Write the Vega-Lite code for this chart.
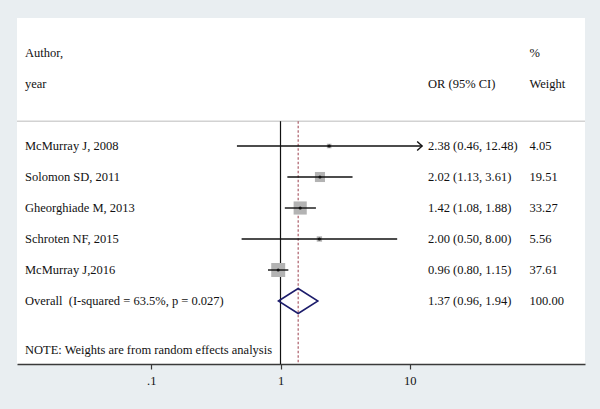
{
  "$schema": "https://vega.github.io/schema/vega-lite/v6.json",
  "width": 568,
  "height": 346,
  "autosize": {"type": "none"},
  "padding": {"left": 17, "top": 18, "right": 15, "bottom": 45},
  "background": "#e9eef1",
  "config": {
    "view": {"fill": "white", "stroke": null},
    "axisX": {
      "grid": false,
      "domainColor": "#3a3a3a", "domainWidth": 1.6,
      "tickColor": "#3a3a3a", "tickSize": 5, "tickWidth": 1.2,
      "labelFont": "Liberation Serif", "labelFontSize": 12.5, "labelColor": "#111111", "labelPadding": 5,
      "titleOpacity": 0
    }
  },
  "data": {
    "values": [
      {"study": "Author,", "row": -3, "wt": "%"},
      {"study": "year", "row": -2, "ci": "OR (95% CI)", "wt": "Weight"},
      {"study": "McMurray J, 2008", "row": 0, "or": 2.38, "lo": 0.46, "hi": 12.48, "ci": "2.38 (0.46, 12.48)", "weight": 4.05, "wt": "4.05"},
      {"study": "Solomon SD, 2011", "row": 1, "or": 2.02, "lo": 1.13, "hi": 3.61, "ci": "2.02 (1.13, 3.61)", "weight": 19.51, "wt": "19.51"},
      {"study": "Gheorghiade M, 2013", "row": 2, "or": 1.42, "lo": 1.08, "hi": 1.88, "ci": "1.42 (1.08, 1.88)", "weight": 33.27, "wt": "33.27"},
      {"study": "Schroten NF, 2015", "row": 3, "or": 2.0, "lo": 0.5, "hi": 8.0, "ci": "2.00 (0.50, 8.00)", "weight": 5.56, "wt": "5.56"},
      {"study": "McMurray J,2016", "row": 4, "or": 0.96, "lo": 0.8, "hi": 1.15, "ci": "0.96 (0.80, 1.15)", "weight": 37.61, "wt": "37.61"},
      {"study": "Overall\u00a0 (I-squared = 63.5%, p = 0.027)", "row": 5, "or": 1.37, "lo": 0.96, "hi": 1.94, "ci": "1.37 (0.96, 1.94)", "weight": 100, "wt": "100.00", "overall": true}
    ]
  },
  "layer": [
    {
      "data": {"values": [{}]},
      "mark": {"type": "rule", "color": "#d2d2d2", "strokeWidth": 1.5},
      "encoding": {
        "y": {"datum": -0.8, "type": "quantitative", "scale": {"domain": [-4.129, 7.032], "reverse": true, "nice": false, "zero": false}, "axis": null}
      }
    },
    {
      "data": {"values": [{}]},
      "mark": {"type": "rule", "color": "#111111", "strokeWidth": 1.2},
      "encoding": {
        "x": {
          "datum": 1, "type": "quantitative", "title": null,
          "scale": {"type": "log", "domain": [0.00913, 227.4], "nice": false},
          "axis": {
            "values": [0.1, 1, 10],
            "labelExpr": "replace(format(datum.value, '~g'), '0.', '.')"
          }
        },
        "y": {"datum": -0.8, "type": "quantitative", "axis": null},
        "y2": {"datum": 7.032}
      }
    },
    {
      "data": {"values": [{}]},
      "mark": {"type": "rule", "color": "#a4505c", "strokeWidth": 1.1, "strokeDash": [2.5, 2]},
      "encoding": {
        "x": {"datum": 1.37, "type": "quantitative", "title": null},
        "y": {"datum": -0.8, "type": "quantitative", "axis": null},
        "y2": {"datum": 7.032}
      }
    },
    {
      "transform": [{"filter": "isValid(datum.lo) && !datum.overall"}],
      "mark": {"type": "point", "shape": "square", "filled": true, "color": "#b3b3b3", "opacity": 1},
      "encoding": {
        "x": {"field": "or", "type": "quantitative", "title": null},
        "y": {"field": "row", "type": "quantitative", "axis": null},
        "size": {"field": "weight", "type": "quantitative", "scale": {"domain": [0, 40], "range": [0, 208]}, "legend": null}
      }
    },
    {
      "transform": [{"filter": "isValid(datum.lo) && !datum.overall"}],
      "mark": {"type": "rule", "color": "#111111", "strokeWidth": 1.4},
      "encoding": {
        "x": {"field": "lo", "type": "quantitative", "title": null},
        "x2": {"field": "hi"},
        "y": {"field": "row", "type": "quantitative", "axis": null}
      }
    },
    {
      "transform": [{"filter": "isValid(datum.lo) && !datum.overall"}],
      "mark": {"type": "point", "shape": "circle", "filled": true, "color": "#111111", "size": 10, "opacity": 1},
      "encoding": {
        "x": {"field": "or", "type": "quantitative", "title": null},
        "y": {"field": "row", "type": "quantitative", "axis": null}
      }
    },
    {
      "transform": [{"filter": "isValid(datum.hi) && datum.hi > 10"}],
      "mark": {"type": "point", "shape": "M-1.1,-1L0,0L-1.1,1", "filled": false, "color": "#111111", "strokeWidth": 1.4, "size": 81, "opacity": 1},
      "encoding": {
        "x": {"field": "hi", "type": "quantitative", "title": null},
        "y": {"field": "row", "type": "quantitative", "axis": null}
      }
    },
    {
      "transform": [{"filter": "datum.overall == true"}],
      "mark": {"type": "point", "shape": "M-1,0L0,-0.633L1,0L0,0.633Z", "filled": false, "color": "#1c1c6b", "strokeWidth": 1.5, "size": 1560, "opacity": 1},
      "encoding": {
        "x": {"field": "or", "type": "quantitative", "title": null},
        "y": {"field": "row", "type": "quantitative", "axis": null}
      }
    },
    {
      "mark": {"type": "text", "font": "Liberation Serif", "fontSize": 12.5, "color": "#111111", "baseline": "middle", "align": "left"},
      "encoding": {
        "x": {"datum": 0.01053, "type": "quantitative", "title": null},
        "y": {"field": "row", "type": "quantitative", "axis": null},
        "text": {"field": "study", "type": "nominal"}
      }
    },
    {
      "transform": [{"filter": "isValid(datum.ci)"}],
      "mark": {"type": "text", "font": "Liberation Serif", "fontSize": 12.5, "color": "#111111", "baseline": "middle", "align": "left"},
      "encoding": {
        "x": {"datum": 13.86, "type": "quantitative", "title": null},
        "y": {"field": "row", "type": "quantitative", "axis": null},
        "text": {"field": "ci", "type": "nominal"}
      }
    },
    {
      "transform": [{"filter": "isValid(datum.wt)"}],
      "mark": {"type": "text", "font": "Liberation Serif", "fontSize": 12.5, "color": "#111111", "baseline": "middle", "align": "left"},
      "encoding": {
        "x": {"datum": 84.6, "type": "quantitative", "title": null},
        "y": {"field": "row", "type": "quantitative", "axis": null},
        "text": {"field": "wt", "type": "nominal"}
      }
    },
    {
      "data": {"values": [{"note": "NOTE: Weights are from random effects analysis"}]},
      "mark": {"type": "text", "font": "Liberation Serif", "fontSize": 12.5, "color": "#111111", "baseline": "middle", "align": "left"},
      "encoding": {
        "x": {"datum": 0.01053, "type": "quantitative", "title": null},
        "y": {"datum": 6.58, "type": "quantitative", "axis": null},
        "text": {"field": "note", "type": "nominal"}
      }
    }
  ]
}
